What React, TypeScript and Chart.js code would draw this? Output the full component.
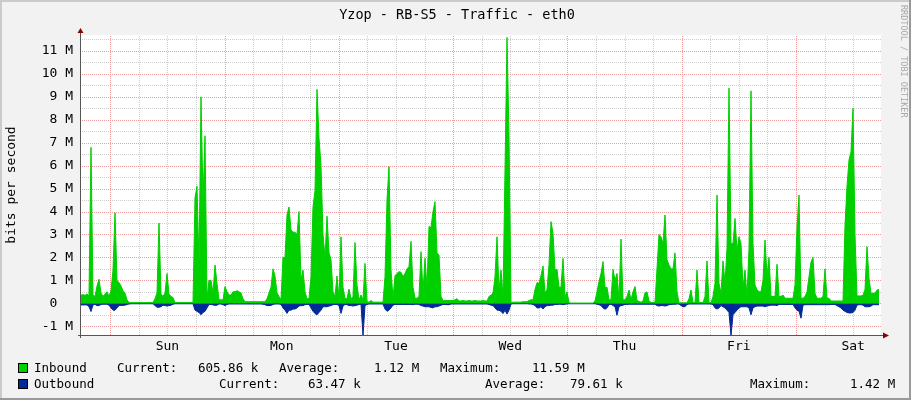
import { useEffect, useRef } from 'react';
import Chart from 'chart.js/auto';

// ---- data (values in Mbit/s) ----
const dayLabels = ['Sun', 'Mon', 'Tue', 'Wed', 'Thu', 'Fri', 'Sat'];

// inbound: one sample every 0.42 h starting 6.15 h before Sunday 00:00
const inboundM = [
  0.35, 0.38, 0.35, 0.4, 0.33, 6.8, 0.35, 0.3, 0.75, 1.05,
  0.45, 0.3, 0.4, 0.5, 0.3, 0.55, 1.45, 3.95, 1.0, 0.9,
  0.75, 0.55, 0.44, 0.15, 0.03, 0.03, 0.03, 0.03, 0.03, 0.03,
  0.03, 0.03, 0.03, 0.03, 0.03, 0.03, 0.03, 0.2, 0.45, 3.5,
  0.4, 0.3, 0.45, 1.3, 0.4, 0.3, 0.25, 0.03, 0.03, 0.03,
  0.03, 0.03, 0.03, 0.03, 0.03, 0.03, 0.03, 4.6, 5.1, 1.7,
  9.0, 4.5, 7.3, 0.2, 1.0, 1.0, 0.45, 1.67, 0.87, 0.15,
  0.15, 0.15, 0.73, 0.5, 0.36, 0.36, 0.5, 0.5, 0.55, 0.5,
  0.45, 0.2, 0.07, 0.07, 0.07, 0.07, 0.07, 0.07, 0.07, 0.07,
  0.07, 0.07, 0.07, 0.2, 0.45, 0.7, 1.5, 1.2, 0.45, 0.3,
  0.15, 2.0, 2.0, 3.85, 4.2, 3.2, 3.1, 3.1, 3.0, 4.0,
  1.0, 1.45, 0.5, 0.2, 0.2, 1.16, 4.2, 4.9, 9.33, 7.2,
  6.0, 3.0, 2.0, 3.8, 2.2, 1.9, 0.5, 0.3, 1.19, 0.2,
  2.9, 0.7, 0.2, 0.2, 0.62, 0.2, 0.3, 2.65, 0.8, 0.15,
  0.36, 0.15, 1.74, 0.07, 0.05, 0.12, 0.05, 0.05, 0.05, 0.05,
  0.05, 0.05, 1.16, 4.5, 5.96, 1.45, 0.22, 1.2, 1.3, 1.38,
  1.35, 1.16, 1.3, 1.5, 1.6, 2.7, 0.7, 0.22, 0.22, 0.3,
  2.25, 0.5, 1.96, 0.7, 3.35, 3.3, 4.0, 4.43, 2.2, 2.1,
  0.3, 0.12, 0.12, 0.12, 0.12, 0.12, 0.12, 0.15, 0.2, 0.1,
  0.1, 0.12, 0.1, 0.1, 0.12, 0.1, 0.1, 0.12, 0.1, 0.1,
  0.1, 0.12, 0.1, 0.1, 0.3, 0.35, 0.45, 1.16, 2.9, 0.58,
  1.45, 0.3, 5.8, 11.59, 7.3, 0.02, 0.05, 0.05, 0.05, 0.05,
  0.05, 0.07, 0.07, 0.07, 0.12, 0.15, 0.15, 0.6, 0.9, 0.87,
  1.2, 1.63, 0.45, 0.6, 1.7, 3.56, 3.05, 1.45, 1.48, 0.7,
  0.7, 1.96, 0.3, 0.5, 0.02, 0.01, 0.01, 0.01, 0.01, 0.01,
  0.01, 0.01, 0.01, 0.01, 0.01, 0.01, 0.01, 0.1, 0.5, 0.95,
  1.3, 1.82, 0.7, 0.7, 0.15, 0.15, 1.48, 1.0, 1.3, 0.15,
  2.8, 0.15, 0.15, 0.3, 0.58, 0.15, 0.5, 0.73, 0.12, 0.08,
  0.05, 0.1, 0.45, 0.5, 0.1, 0.04, 0.04, 0.04, 1.5, 3.0,
  2.9, 2.6, 3.85, 1.9, 1.67, 1.5, 1.5, 2.2, 0.5, 0.02,
  0.02, 0.02, 0.02, 0.02, 0.2, 0.58, 0.03, 0.03, 1.45, 0.03,
  0.03, 0.03, 0.3, 1.85, 0.03, 0.03, 0.3, 0.87, 4.72, 0.87,
  0.44, 1.85, 0.87, 2.4, 9.38, 2.6, 2.6, 3.7, 2.3, 2.9,
  2.6, 0.7, 1.45, 0.3, 2.4, 9.26, 2.6, 0.8, 0.6, 0.5,
  0.5, 1.0, 2.76, 1.2, 2.0, 0.3, 0.3, 0.3, 1.7, 0.3,
  0.3, 0.36, 0.22, 0.22, 0.22, 0.22, 0.22, 0.8, 3.35, 4.72,
  0.22, 0.22, 0.3, 0.5, 1.16, 1.8, 2.0, 0.44, 0.22, 0.22,
  0.22, 0.3, 1.5, 0.22, 0.22, 0.1, 0.1, 0.1, 0.1, 0.1,
  0.1, 0.1, 3.4, 5.1, 6.25, 6.6, 8.5, 3.0, 0.32, 0.32,
  0.32, 0.35, 0.6, 2.47, 1.09, 0.44, 0.44, 0.44, 0.58, 0.6,
];

// outbound: same sampling as inbound
const outboundM = [
  0.07, 0.07, 0.07, 0.07, 0.15, 0.36, 0.07, 0.05, 0.1, 0.1,
  0.05, 0.04, 0.04, 0.04, 0.08, 0.2, 0.3, 0.3, 0.2, 0.1,
  0.09, 0.09, 0.08, 0.05, 0.03, 0.02, 0.02, 0.02, 0.02, 0.02,
  0.02, 0.02, 0.02, 0.02, 0.02, 0.02, 0.02, 0.1, 0.17, 0.17,
  0.15, 0.08, 0.1, 0.12, 0.1, 0.08, 0.04, 0.02, 0.02, 0.02,
  0.02, 0.02, 0.02, 0.02, 0.02, 0.02, 0.02, 0.3, 0.35, 0.4,
  0.5, 0.4, 0.35, 0.2, 0.05, 0.05, 0.07, 0.09, 0.08, 0.03,
  0.03, 0.06, 0.1, 0.05, 0.03, 0.03, 0.03, 0.03, 0.03, 0.03,
  0.03, 0.03, 0.03, 0.03, 0.03, 0.03, 0.03, 0.03, 0.03, 0.03,
  0.03, 0.04, 0.06, 0.1, 0.1, 0.09, 0.05, 0.03, 0.03, 0.03,
  0.05, 0.2, 0.3, 0.44, 0.3, 0.3, 0.25, 0.25, 0.2, 0.12,
  0.1, 0.1, 0.06, 0.05, 0.05, 0.2, 0.35, 0.45, 0.5, 0.4,
  0.3, 0.15, 0.15, 0.15, 0.12, 0.1, 0.06, 0.05, 0.05, 0.1,
  0.44, 0.12, 0.05, 0.06, 0.1, 0.1, 0.12, 0.1, 0.08, 0.05,
  0.04, 1.42, 0.1, 0.05, 0.03, 0.03, 0.03, 0.03, 0.03, 0.03,
  0.03, 0.03, 0.25, 0.35, 0.3, 0.2, 0.08, 0.05, 0.05, 0.05,
  0.05, 0.05, 0.05, 0.05, 0.05, 0.05, 0.06, 0.04, 0.04, 0.05,
  0.1, 0.12, 0.15, 0.15, 0.15, 0.18, 0.2, 0.15, 0.15, 0.12,
  0.08, 0.05, 0.05, 0.06, 0.06, 0.03, 0.03, 0.03, 0.03, 0.03,
  0.03, 0.03, 0.03, 0.03, 0.03, 0.03, 0.03, 0.03, 0.03, 0.03,
  0.03, 0.03, 0.03, 0.03, 0.05, 0.08, 0.1, 0.2, 0.3, 0.3,
  0.35, 0.45, 0.3, 0.47, 0.3, 0.03, 0.02, 0.02, 0.02, 0.02,
  0.02, 0.02, 0.02, 0.02, 0.03, 0.03, 0.05, 0.1, 0.2, 0.2,
  0.15, 0.25, 0.15, 0.1, 0.1, 0.08, 0.08, 0.05, 0.05, 0.04,
  0.04, 0.06, 0.04, 0.03, 0.02, 0.02, 0.02, 0.02, 0.02, 0.02,
  0.02, 0.02, 0.02, 0.02, 0.02, 0.02, 0.02, 0.02, 0.04, 0.06,
  0.1, 0.2, 0.26, 0.2, 0.06, 0.04, 0.1, 0.15, 0.52, 0.15,
  0.1, 0.08, 0.05, 0.05, 0.04, 0.04, 0.04, 0.04, 0.04, 0.04,
  0.04, 0.04, 0.04, 0.04, 0.04, 0.04, 0.04, 0.04, 0.1, 0.12,
  0.1, 0.1, 0.12, 0.1, 0.06, 0.05, 0.04, 0.04, 0.03, 0.03,
  0.1, 0.15, 0.15, 0.05, 0.03, 0.03, 0.03, 0.03, 0.03, 0.03,
  0.03, 0.03, 0.03, 0.03, 0.03, 0.03, 0.06, 0.2, 0.25, 0.2,
  0.1, 0.15, 0.2, 0.3, 0.4, 1.42, 0.5, 0.4, 0.3, 0.2,
  0.15, 0.15, 0.15, 0.15, 0.2, 0.5, 0.2, 0.15, 0.12, 0.12,
  0.12, 0.12, 0.15, 0.12, 0.1, 0.08, 0.08, 0.08, 0.1, 0.05,
  0.05, 0.05, 0.05, 0.05, 0.05, 0.05, 0.05, 0.2, 0.3, 0.35,
  0.65, 0.08, 0.06, 0.06, 0.06, 0.06, 0.06, 0.06, 0.06, 0.06,
  0.06, 0.06, 0.06, 0.06, 0.06, 0.05, 0.05, 0.05, 0.1, 0.15,
  0.2, 0.3, 0.35, 0.4, 0.42, 0.42, 0.4, 0.3, 0.08, 0.06,
  0.06, 0.08, 0.15, 0.15, 0.15, 0.12, 0.06, 0.06, 0.06, 0.06,
];

const xTickHours = [-6, 0, 6, 12, 18, 24, 30, 36, 42, 48, 54, 60, 66, 72, 78, 84, 90, 96, 102, 108, 114, 120, 126, 132, 138, 144, 150, 156];
const yTickValues = [-1e6, -5e5, 0, 5e5, 1e6, 1.5e6, 2e6, 2.5e6, 3e6, 3.5e6, 4e6, 4.5e6, 5e6, 5.5e6, 6e6, 6.5e6, 7e6, 7.5e6, 8e6, 8.5e6, 9e6, 9.5e6, 10e6, 10.5e6, 11e6, 11.5e6];

const titleText = 'Yzop - RB-S5 - Traffic - eth0';
const yAxisTitle = 'bits per second';
const watermark = 'RRDTOOL / TOBI OETIKER';
const seriesNames = ['Inbound', 'Outbound'];
const inboundStats = ['605.86 k', '1.12 M', '11.59 M'];
const outboundStats = ['63.47 k', '79.61 k', '1.42 M'];
const statLabels = ['Current:', 'Average:', 'Maximum:'];

const START_H = -6.15;
const END_H = 161.85;
const STEP_H = 0.42;

const IN_COLOR = '#00CF00';
const OUT_COLOR = '#002A97';
const MAJOR_GRID = 'rgb(242,158,158)';
const MINOR_GRID = 'rgb(205,205,205)';
const MONO = '"DejaVu Sans Mono", monospace';

const mod24 = (v: number) => ((Math.round(v) % 24) + 24) % 24;
const isWholeM = (v: number) => Math.abs(Math.round(v / 1e6) * 1e6 - v) < 1;

const rrdFrame = {
  id: 'rrdFrame',
  beforeDraw(chart: any) {
    const { ctx, width, height, chartArea: a } = chart;
    ctx.save();
    ctx.fillStyle = '#f2f2f2';
    ctx.fillRect(0, 0, width, height);
    ctx.fillStyle = '#cbcbcb';
    ctx.fillRect(0, 0, width, 2);
    ctx.fillRect(0, 0, 2, height);
    ctx.fillStyle = '#999999';
    ctx.fillRect(0, height - 2, width, 2);
    ctx.fillRect(width - 2, 0, 2, height);
    ctx.fillStyle = '#ffffff';
    ctx.fillRect(a.left, a.top, a.right - a.left, a.bottom - a.top);
    ctx.restore();
  },
  beforeDatasetsDraw(chart: any) {
    // dotted RRD-style grid (1px dots), placed through the chart's own scales
    const { ctx, chartArea: a, scales } = chart;
    const L = Math.round(a.left);
    const R = Math.round(a.right);
    const T = Math.round(a.top);
    const B = Math.round(a.bottom);
    ctx.save();
    const vline = (h: number, color: string) => {
      const px = Math.round(scales.x.getPixelForValue(h));
      if (px <= L + 1 || px >= R) return;
      ctx.fillStyle = color;
      for (let y = B - 1; y >= T; y -= 2) ctx.fillRect(px, y, 1, 1);
    };
    const hline = (v: number, color: string) => {
      const py = Math.round(scales.y.getPixelForValue(v));
      ctx.fillStyle = color;
      for (let x = L + 1; x < R; x += 2) ctx.fillRect(x, py, 1, 1);
    };
    xTickHours.filter((h) => mod24(h) !== 0).forEach((h) => vline(h, MINOR_GRID));
    yTickValues.filter((v) => !isWholeM(v)).forEach((v) => hline(v, MINOR_GRID));
    xTickHours.filter((h) => mod24(h) === 0).forEach((h) => vline(h, MAJOR_GRID));
    yTickValues.filter((v) => isWholeM(v)).forEach((v) => hline(v, MAJOR_GRID));
    ctx.restore();
  },
  afterDraw(chart: any) {
    const { ctx, chartArea: a } = chart;
    ctx.save();
    // axes
    ctx.strokeStyle = '#555555';
    ctx.lineWidth = 1;
    ctx.beginPath();
    ctx.moveTo(a.left - 3, a.bottom + 0.5);
    ctx.lineTo(a.right + 3, a.bottom + 0.5);
    ctx.moveTo(a.left - 0.5, a.bottom + 3);
    ctx.lineTo(a.left - 0.5, a.top - 3);
    ctx.stroke();
    ctx.fillStyle = '#8b0000';
    ctx.beginPath();
    ctx.moveTo(a.right + 2, a.bottom - 2.5);
    ctx.lineTo(a.right + 8, a.bottom + 0.5);
    ctx.lineTo(a.right + 2, a.bottom + 3.5);
    ctx.closePath();
    ctx.fill();
    ctx.beginPath();
    ctx.moveTo(a.left - 3.5, a.top - 2);
    ctx.lineTo(a.left - 0.5, a.top - 7);
    ctx.lineTo(a.left + 2.5, a.top - 2);
    ctx.closePath();
    ctx.fill();

    // title
    ctx.fillStyle = '#000';
    ctx.font = `13.5px ${MONO}`;
    ctx.textAlign = 'center';
    ctx.textBaseline = 'middle';
    ctx.fillText(titleText, 457, 15);

    // watermark
    ctx.save();
    ctx.translate(903, 5);
    ctx.rotate(Math.PI / 2);
    ctx.fillStyle = '#a8a8a8';
    ctx.font = `8.5px ${MONO}`;
    ctx.textAlign = 'left';
    ctx.fillText(watermark, 0, 0);
    ctx.restore();

    // legend
    const rows = [
      { name: seriesNames[0], color: IN_COLOR, y: 368.5, stats: inboundStats, lx: [117, 279, 440], vx: [198, 374, 532] },
      { name: seriesNames[1], color: OUT_COLOR, y: 384.5, stats: outboundStats, lx: [219, 485, 750], vx: [308, 570, 850] },
    ];
    ctx.font = `12.5px ${MONO}`;
    ctx.textAlign = 'left';
    ctx.textBaseline = 'middle';
    rows.forEach((r) => {
      ctx.fillStyle = r.color;
      ctx.fillRect(18, r.y - 5.5, 10, 10);
      ctx.strokeStyle = '#000';
      ctx.strokeRect(18.5, r.y - 5, 9, 9);
      ctx.fillStyle = '#000';
      ctx.fillText(r.name, 34, r.y);
      statLabels.forEach((l, k) => {
        ctx.fillText(l, r.lx[k], r.y);
        ctx.fillText(r.stats[k], r.vx[k], r.y);
      });
    });
    ctx.restore();
  },
};

export default function App() {
  const ref = useRef<HTMLCanvasElement | null>(null);
  useEffect(() => {
    document.body.style.margin = '0';
    const canvas = ref.current;
    if (!canvas) return;
    const chart = new Chart(canvas, {
      type: 'line',
      data: {
        datasets: [
          {
            label: seriesNames[0],
            data: inboundM.map((v, i) => ({ x: START_H + i * STEP_H, y: v * 1e6 })),
            borderColor: IN_COLOR,
            backgroundColor: IN_COLOR,
            fill: 'origin',
            borderWidth: 1,
            pointRadius: 0,
            tension: 0,
          },
          {
            label: seriesNames[1],
            data: outboundM.map((v, j) => ({ x: START_H + j * STEP_H, y: -v * 1e6 })),
            borderColor: OUT_COLOR,
            backgroundColor: OUT_COLOR,
            fill: 'origin',
            borderWidth: 1,
            pointRadius: 0,
            tension: 0,
          },
        ],
      },
      options: {
        responsive: false,
        animation: false,
        events: [],
        layout: { padding: { left: 0, top: 35, right: 30, bottom: 0 } },
        plugins: { legend: { display: false }, title: { display: false }, tooltip: { enabled: false } },
        scales: {
          x: {
            type: 'linear',
            min: START_H,
            max: END_H,
            afterFit: (s: any) => { s.height = 65; },
            afterBuildTicks: (s: any) => { s.ticks = xTickHours.map((value) => ({ value })); },
            ticks: {
              autoSkip: false,
              maxRotation: 0,
              padding: 4,
              color: '#000',
              font: { family: MONO, size: 13 },
              callback: (v: any) => {
                const n = Number(v);
                return mod24(n) === 12 ? dayLabels[Math.round((n - 12) / 24)] : '';
              },
            },
            grid: { display: false, drawTicks: false },
            border: { display: false },
          },
          y: {
            type: 'linear',
            min: -1.382e6,
            max: 11.696e6,
            afterFit: (s: any) => { s.width = 81; },
            afterBuildTicks: (s: any) => { s.ticks = yTickValues.map((value) => ({ value })); },
            ticks: {
              padding: 8,
              color: '#000',
              font: { family: MONO, size: 13 },
              callback: (v: any) => {
                const n = Number(v);
                if (!isWholeM(n)) return '';
                return Math.abs(n) < 1 ? '0  ' : `${Math.round(n / 1e6)} M`;
              },
            },
            grid: { display: false, drawTicks: false },
            border: { display: false },
            title: {
              display: true,
              text: yAxisTitle,
              color: '#000',
              font: { family: MONO, size: 13 },
              padding: { top: 4, bottom: 0 },
            },
          },
        },
      },
      plugins: [rrdFrame],
    });
    return () => chart.destroy();
  }, []);
  return (
    <div style={{ width: 911, height: 400 }}>
      <canvas ref={ref} width={911} height={400} style={{ display: 'block' }} />
    </div>
  );
}
